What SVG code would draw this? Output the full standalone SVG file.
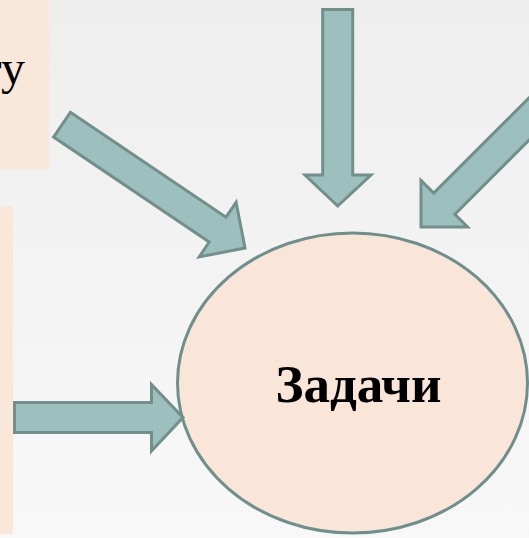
<svg xmlns="http://www.w3.org/2000/svg" width="529" height="538" viewBox="0 0 529 538">
  <defs>
    <linearGradient id="bg" x1="0" y1="0" x2="0" y2="1">
      <stop offset="0" stop-color="#eeeeee"/>
      <stop offset="1" stop-color="#f8f8f8"/>
    </linearGradient>
    <style>
      .box { fill: #f9e7d9; stroke: none; }
      .arrow { fill: #9dbfbd; stroke: #728f8c; stroke-width: 3; stroke-linejoin: miter; }
      .ell { fill: #f9e6d8; stroke: #6f8f8c; stroke-width: 3; }
      .txt { fill: #000000; }
    </style>
  </defs>
  <rect x="0" y="0" width="529" height="538" fill="url(#bg)"/>

  <g id="box-top">
    <rect class="box" x="0" y="0" width="49" height="169"/>
    <text class="txt" x="25" y="84" font-family="'Liberation Serif', 'DejaVu Serif', serif" font-size="48" text-anchor="end">ту</text>
  </g>

  <g id="box-left">
    <rect class="box" x="0" y="206" width="13" height="328"/>
  </g>

  <g id="tasks">
    <ellipse class="ell" cx="352.5" cy="383" rx="175" ry="150"/>
    <text class="txt" x="358.5" y="402" font-family="'Liberation Serif', 'DejaVu Serif', serif" font-size="53" font-weight="bold" text-anchor="middle">Задачи</text>
  </g>

  <g id="connectors">
    <polygon class="arrow" points="70.4,112.3 226,217.2 236.1,202.3 245,248 199.2,256.9 209.2,242 53.6,137.1"/>
    <polygon class="arrow" points="322.7,9.5 352.7,9.5 352.7,175 371,175 337.7,206 305,175 322.7,175"/>
    <polygon class="arrow" points="560.9,108.3 454.9,214.3 467.6,227 421,227 421,180.4 433.7,193.1 539.7,87.1"/>
    <polygon class="arrow" points="14.5,402.5 151.5,402.5 151.5,384.5 183,417.5 151.5,451 151.5,432.5 14.5,432.5"/>
  </g>
</svg>
